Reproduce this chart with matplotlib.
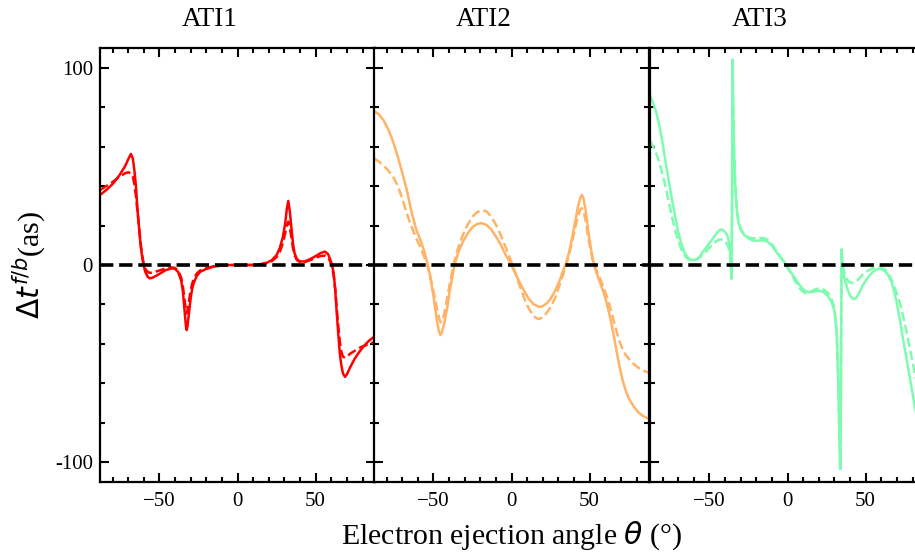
import matplotlib
matplotlib.use("Agg")
import matplotlib.pyplot as plt
from matplotlib.ticker import MultipleLocator, FixedLocator, FixedFormatter

plt.rcParams['font.family'] = ['Liberation Serif', 'DejaVu Serif']
plt.rcParams['mathtext.fontset'] = 'dejavusans'

# ---- ATI1 (red) ----
theta1 = [-88, -84, -80, -76, -72, -70, -68.2, -67, -66, -65, -64, -63, -62, -61, -60, -59, -57.5, -56,
          -54, -50, -46, -42, -40, -38, -36, -35, -34, -33, -32.5, -32, -31, -30, -29, -28, -26, -24,
          -20, -15, -10, -5, 0, 5, 10, 13, 16, 19, 22, 25, 27, 29, 30.5, 31.5, 32.5, 33.5, 34.5, 35.5,
          36.5, 38, 40, 43, 46, 50, 53, 56, 58, 59.5, 60.5, 61.5, 62.5, 63.5, 64.5, 65.5, 66.5, 67.5,
          68.8, 70, 72, 75, 78, 81, 84, 88]
ati1_solid = [35.5, 38, 41, 45, 50, 53.5, 56.3, 54, 48, 40, 28, 19, 10, 4, -0.5, -3.5, -6, -6.8,
              -6.3, -4.5, -2.6, -1.7, -2, -3.5, -8, -13, -22, -31, -33, -31, -24, -17, -12, -9, -5.5, -3.5,
              -2, -0.8, -0.3, 0, 0, 0, 0, 0.2, 0.6, 1.2, 2.5, 5, 8.5, 14, 21, 28, 32.5, 27, 19, 11,
              6, 3, 1.8, 1.8, 2.8, 4.5, 6, 6.8, 5.5, 2.5, 0, -4, -12, -24, -35, -45, -51, -55,
              -56.7, -55.5, -52, -47.5, -44, -41, -38.5, -36]
ati1_dash = [38, 40, 42, 44.5, 46.5, 47, 46.5, 45, 41, 35, 27, 19, 11, 5, 0.5, -2, -3.5, -4,
             -3.8, -2.8, -1.7, -1.2, -1.5, -2.8, -6.5, -10.5, -17, -23, -24.5, -23, -18, -13, -9.5, -7, -4.3, -2.8,
             -1.6, -0.6, -0.2, 0, 0, 0, 0, 0.2, 0.5, 1, 2, 4, 6.5, 11, 16, 20, 22, 19, 14, 8.5,
             5, 2.5, 1.5, 1.5, 2.3, 3.6, 4.5, 4.8, 3.8, 1.5, -1, -5, -12, -22, -31, -39, -44, -46.5,
             -47, -46.5, -45, -43.5, -42, -41, -40, -39]

# ---- ATI2 (orange) ----
theta2 = [-88, -85, -82, -79, -76, -73, -70, -67, -64, -61, -58, -55.5, -53.5, -52, -50, -48, -46.5,
          -45.5, -44.5, -43, -41, -39.5, -38, -36.5, -34, -31, -28, -25, -22, -19, -16, -13, -10, -7,
          -4, -1, 2, 5, 8, 11, 14, 17, 19, 22, 25, 28, 31, 33, 35, 37, 39, 41, 42.5, 44, 45, 46,
          47.5, 49, 50.5, 52, 54, 56.5, 59, 61, 63, 65, 67, 69, 71, 73, 75, 78, 81, 84, 88]
ati2_solid = [78, 76.5, 73.5, 69, 63, 55.5, 47, 38, 27, 18, 12, 6, 0, -6, -15.5, -27, -33.5,
              -35.5, -34, -29.5, -21, -13, -6.5, 0, 6.5, 12, 16, 19.2, 20.8, 21.2, 20.3, 18, 14.5, 10.5,
              5.5, 1.5, -3.5, -8.5, -13, -17, -19.8, -21, -21.2, -19.8, -17.2, -13, -7.5, -3, 1, 7, 14.5, 23, 29.5, 34, 35.5, 34,
              27.5, 18, 10, 3, -3, -8.5, -14, -19.5, -26, -34, -42.5, -51, -58, -63.5, -67.5, -71.5, -74.5, -76.5, -78]
ati2_dash = [54, 52.5, 50.5, 48, 45, 40.5, 34, 26, 19.5, 13.5, 8.5, 3.5, -1, -6, -13, -21, -26.5,
             -29, -28.5, -24.5, -16, -9.5, -3.5, 2, 9, 15.5, 20.5, 24.5, 26.8, 27.8, 27.2, 24.5, 20.5, 15.5,
             9.5, 3.5, -3, -10, -16.5, -22, -25.8, -27.4, -27, -24.8, -21.5, -16.5, -9.5, -5, 0, 6, 12.5, 19.5, 24.5, 28, 28.8, 27.5,
             22.5, 14.5, 8, 2.5, -2, -6.5, -11.5, -16, -21, -27, -33, -38.5, -42.5, -45.5, -47.5, -50, -52, -53.5, -54.5]

# ---- ATI3 (green) ----
theta3 = [-88, -86, -84, -82, -80, -78, -76, -74, -72, -70, -68, -66, -64, -62, -60, -58, -56, -54,
          -52, -50, -48, -46, -44, -42.5, -41, -39.5, -38, -37, -36.3, -35.8, -35.5, -35.2, -34.8, -34.3,
          -33.5, -32.6, -31.5, -30, -28, -25, -22, -19, -16, -13, -10, -7, -4, -1, 2, 5, 8, 11, 14, 17,
          20, 23, 26, 28, 30, 31.5, 32.5, 33.3, 33.8, 34.2, 34.6, 35.2, 36, 37, 38.5, 40, 42, 44, 46, 48,
          50, 52, 54, 56, 58, 60, 62, 64, 66, 68, 70, 72, 74, 76, 78, 80, 82, 84, 86, 88]
ati3_solid = [86, 82, 77.5, 70.5, 62, 52, 43, 33.5, 25, 17, 11, 6.5, 4, 2.7, 2.4, 3, 4.5, 6.8,
              9, 11, 13.2, 15.5, 17.3, 18, 17.5, 16.3, 14, 9, 2, -7, 30, 104, 80, 58,
              40, 29, 22, 18, 15.5, 13.5, 12.4, 12.3, 12.6, 12, 9.8, 6.5, 3.5, 0.3, -3.5, -7, -10.5, -13, -13.8, -13.5,
              -13, -13.7, -15.8, -18.5, -23, -35, -60, -90, -103, -60, 8, 0, -5, -8.5, -12.5, -15.5, -17.3, -16.8, -14, -10.5,
              -8, -5.8, -4, -2.7, -2, -2, -3, -4.5, -7.5, -12.5, -19.5, -28, -38, -46.5, -56, -65, -74, -83, -91, -98]
ati3_dash = [63, 60, 56.5, 52, 46, 39.5, 32, 24.5, 18, 12.5, 8, 5, 3.2, 2.3, 2.2, 2.8, 4, 5.5,
             7, 8.7, 10.3, 11.8, 12.8, 13, 12.6, 11.6, 9.8, 6, 0, -4, 25, 104, 85, 62,
             43, 31, 23, 18.5, 15.5, 14, 13.5, 13.5, 13.8, 13, 10.5, 7, 3.5, 0, -4, -8.3, -12, -14.2, -13.8, -12.6,
             -11.8, -12.3, -14.2, -17, -21.5, -33, -58, -90, -104, -65, 5, 1, -3, -5.5, -7.8, -8.8, -9.1, -8.3, -6.8, -5,
             -3.7, -2.6, -1.8, -1.4, -1.2, -1.4, -2, -3.5, -6.5, -10, -14.5, -19.5, -26, -33, -41, -49, -57, -64, -70, -76]

titles = ['ATI1', 'ATI2', 'ATI3']
colors = ['#ff0000', '#ffb366', '#7dfcb0']
thetas = [theta1, theta2, theta3]
solids = [ati1_solid, ati2_solid, ati3_solid]
dashes = [ati1_dash, ati2_dash, ati3_dash]

fig = plt.figure(figsize=(9.15, 5.55), dpi=100)
W, H = 915.0, 555.0
lefts = [100, 374, 650]
axes = []
for i in range(3):
    ax = fig.add_axes([lefts[i] / W, (H - 482) / H, 275 / W, 434 / H])
    axes.append(ax)

for i, ax in enumerate(axes):
    ax.plot(thetas[i], solids[i], color=colors[i], lw=1.8, ls='-')
    ax.plot(thetas[i], dashes[i], color=colors[i], lw=1.8, ls='--')
    ax.axhline(0, color='black', lw=2.6, ls='--', zorder=3)
    ax.set_xlim(-88, 88)
    ax.set_ylim(-110, 110)
    # titles sit a bit left of the panel centre in the original
    ax.set_title(titles[i], fontsize=19.5, pad=16, x=0.40)
    ax.xaxis.set_major_locator(MultipleLocator(50))
    ax.xaxis.set_minor_locator(MultipleLocator(10))
    ax.yaxis.set_major_locator(FixedLocator([-100, 0, 100]))
    ax.yaxis.set_minor_locator(MultipleLocator(20))
    ax.tick_params(which='both', direction='in', top=True, right=True, width=1.5, labelsize=15)
    ax.tick_params(which='major', length=6.5)
    ax.tick_params(which='minor', length=3.6)
    ax.tick_params(axis='x', which='major', pad=7)
    ax.tick_params(axis='y', which='major', pad=5)
    for sp in ax.spines.values():
        sp.set_linewidth(1.6)
    if i == 0:
        ax.yaxis.set_major_formatter(FixedFormatter(['-100', '0', '100']))
    else:
        ax.tick_params(labelleft=False)

axes[0].set_ylabel(r'$\Delta t^{f/b}$(as)', fontsize=21.5, labelpad=5)
axes[1].set_xlabel(r'Electron ejection angle $\theta$ (°)', fontsize=21.5, labelpad=6)

fig.savefig('out.png', dpi=100)
